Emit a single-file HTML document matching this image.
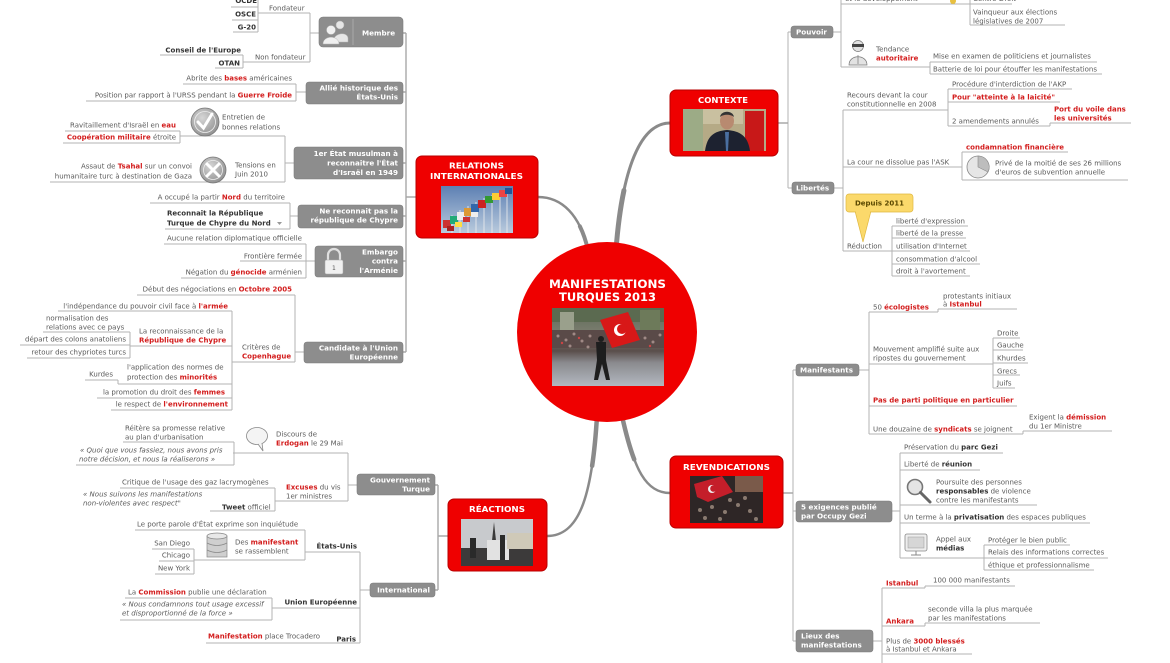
<!DOCTYPE html>
<html><head><meta charset="utf-8"><style>
html,body{margin:0;padding:0;background:#fff;}
svg{display:block}
text{font-family:"DejaVu Sans",Verdana,sans-serif;font-size:7px;fill:#5a5a5a}
.b{font-weight:bold;fill:#333}
.r{font-weight:bold;fill:#d31d1d}
.i{font-style:italic}
.w{font-weight:bold;fill:#fff;font-size:7.2px}
.h{font-weight:bold;fill:#fff;font-size:7.8px}
.l{stroke:#b3b3b3;stroke-width:1;fill:none}
.g{fill:#8d8d8d;stroke:#7c7c7c;stroke-width:0.6}
.rb{fill:#ef0000;stroke:#b90000;stroke-width:1}
.cv{stroke:#8a8a8a;fill:none;stroke-linecap:round}
</style></head><body>
<svg width="1170" height="663" viewBox="0 0 1170 663" xmlns="http://www.w3.org/2000/svg">
<defs>
<linearGradient id="sky" x1="0" y1="0" x2="0" y2="1"><stop offset="0" stop-color="#5d80b3"/><stop offset="1" stop-color="#b9cadd"/></linearGradient>
<linearGradient id="st" x1="0" y1="0" x2="0" y2="1"><stop offset="0" stop-color="#5f6a55"/><stop offset="0.35" stop-color="#7d7f72"/><stop offset="0.55" stop-color="#5a4e4b"/><stop offset="0.7" stop-color="#8a8a8e"/><stop offset="1" stop-color="#b3b8c0"/></linearGradient>
<radialGradient id="ic" cx="0.4" cy="0.35" r="0.7"><stop offset="0" stop-color="#d6d6d6"/><stop offset="1" stop-color="#8f8f8f"/></radialGradient>
</defs>

<!-- connector lines -->
<path class="l" d="M231 7H258M232 20H258M233 32H258M258 0V32M258 13H310M310 13V62M243 62H310M160 55H243M215 68H243M243 55V68M310 33H319
M183 84H296M86 101H296M296 84V101M296 92H306
M180 136H285M65 131H180M63 143H180M180 131V143M50 182H285M285 136V182M285 163H294
M150 203H290M165 229H290M290 203V229M290 216H298
M164 244H306M240 261H306M181 278H306M306 244V278M306 261H315
M137 295H295M295 295V362M295 352H304M232 362H295M232 311V410M58 311H232M130 346H232M130 332V358M43 332H130M20 345H130M27 358H130M118 384H232M85 380H118M118 380V384M97 398H232M111 410H232
M348 485H357M348 453V501M233 453H348M123 442H234M234 442V465M76 465H234M275 501H348M120 488H275M275 488V511M210 511H275
M360 552V643M360 590H370M305 552H360M135 530H305M305 530V560M194 560H305M152 549H194M159 561H194M155 574H194M194 549V574M272 608H360M125 598H272M272 598V620M120 620H272M206 643H360
M788 32V188M788 32H791M788 188H792M833 32H841M841 0V67M841 4H970M970 0V25M970 4H1012M970 25H1065M841 67H930M930 62V74M930 62H1097M930 74H1102
M834 188H843M843 110V251M843 110H948M948 89V126M948 89H1072M948 102H1060M948 126H1050M1050 123V126M1050 123H1131M843 167H962M962 152V180M962 152H1068M962 180H1128M843 251H892M892 226V276M892 226H968M892 238H966M892 251H970M892 264H980M892 276H970
M793 370V641M793 370H796M793 511H796M793 641H796
M859 370H869M869 312V434M869 312H938M938 309V312M938 309H1017M869 364H993M993 338V388M993 338H1020M993 350H1023M993 363H1028M993 375H1020M993 388H1015M869 406H1017M869 434H1023M1023 431V434M1023 431H1112
M892 511H900M900 453V558M900 453H1003M900 470H980M900 505H1037M900 523H1090M900 558H984M984 545V570M984 545H1070M984 558H1108M984 570H1094
M873 641H882M882 588V663M882 588H925M925 586V588M925 586H1015M882 626H925M925 623V626M925 623H1040M882 654H972"/>
<path d="M406 33V352M403 33H406M403 92H406M403 163H406M403 216H406M403 261H406M403 352H406M406 197H416M438 485V590M438 536H448M435 485H438M435 590H438M778 123H788M783 493H793" stroke="#a8a8a8" stroke-width="1.4" fill="none"/>

<!-- thick tapered curves -->
<path class="cv" stroke-width="2.5" d="M588 250 C580 215 562 197 538 197"/>
<path class="cv" stroke-width="4" stroke-dasharray="25 500" d="M588 250 C580 215 562 197 538 197"/>
<path class="cv" stroke-width="3" d="M616 250 C622 170 640 123 670 123"/>
<path class="cv" stroke-width="5" stroke-dasharray="60 500" d="M616 250 C622 170 640 123 670 123"/>
<path class="cv" stroke-width="2.5" d="M597 416 C592 500 578 536 547 536"/>
<path class="cv" stroke-width="4.5" stroke-dasharray="50 500" d="M597 416 C592 500 578 536 547 536"/>
<path class="cv" stroke-width="2.5" d="M622 416 C634 470 646 493 670 493"/>
<path class="cv" stroke-width="4.5" stroke-dasharray="45 500" d="M622 416 C634 470 646 493 670 493"/>

<!-- central circle -->
<circle cx="607" cy="332" r="90" fill="#ef0000"/>
<text x="549" y="288" textLength="117" lengthAdjust="spacingAndGlyphs" style="font-size:11.5px;font-weight:bold;fill:#fff">MANIFESTATIONS</text>
<text x="559" y="301" textLength="97" lengthAdjust="spacingAndGlyphs" style="font-size:11.5px;font-weight:bold;fill:#fff">TURQUES 2013</text>
<rect x="552" y="308" width="112" height="78" fill="url(#st)"/>
<rect x="552" y="308" width="112" height="14" fill="#5b6a50"/>
<rect x="560" y="312" width="14" height="20" fill="#9aa08c"/>
<rect x="640" y="310" width="20" height="22" fill="#6d7a5a"/>
<rect x="552" y="330" width="112" height="18" fill="#5a4a48"/>
<g fill="#a08a86"><circle cx="558" cy="336" r="1.5"/><circle cx="566" cy="340" r="1.5"/><circle cx="574" cy="334" r="1.5"/><circle cx="582" cy="341" r="1.5"/><circle cx="590" cy="336" r="1.5"/><circle cx="645" cy="338" r="1.5"/><circle cx="653" cy="342" r="1.5"/><circle cx="660" cy="335" r="1.5"/><circle cx="570" cy="346" r="1.5"/><circle cx="588" cy="347" r="1.5"/></g>
<g fill="#c44"><circle cx="562" cy="343" r="1.2"/><circle cx="579" cy="338" r="1.2"/><circle cx="650" cy="346" r="1.2"/></g>
<path d="M600 320 L628 312 L640 340 L612 348 Z" fill="#d81818"/>
<circle cx="620" cy="330" r="6" fill="#fff"/><circle cx="622" cy="329" r="5" fill="#d81818"/>
<path d="M596 342 h10 v18 l4 20 h-4 l-4 -16 l-4 16 h-4 l3 -20 z" fill="#1e1e1e"/>
<circle cx="601" cy="339" r="3" fill="#1e1e1e"/>

<!-- RELATIONS INTERNATIONALES -->
<rect x="416" y="156" width="122" height="82" rx="6" class="rb"/>
<text x="449" y="168.5" textLength="55" lengthAdjust="spacingAndGlyphs" class="h">RELATIONS</text>
<text x="430" y="179" textLength="93" lengthAdjust="spacingAndGlyphs" class="h">INTERNATIONALES</text>
<rect x="441" y="186" width="72" height="47" fill="url(#sky)"/>
<g stroke="#eee" stroke-width="0.8"><path d="M452 215V233M460 210V233M468 206V233M476 202V233M484 198V233M492 195V233M500 192V233M507 190V233"/></g>
<g>
<rect x="443" y="220" width="8" height="8" fill="#c33"/><rect x="450" y="216" width="8" height="8" fill="#2a7"/><rect x="457" y="212" width="8" height="8" fill="#eee"/><rect x="464" y="208" width="8" height="8" fill="#d93"/><rect x="471" y="204" width="8" height="8" fill="#36a"/><rect x="478" y="200" width="8" height="8" fill="#c22"/><rect x="485" y="196" width="8" height="7" fill="#393"/><rect x="492" y="193" width="8" height="7" fill="#fc3"/><rect x="499" y="190" width="8" height="7" fill="#e44"/><rect x="505" y="188" width="7" height="6" fill="#259"/>
<rect x="447" y="226" width="7" height="5" fill="#a22"/><rect x="455" y="222" width="7" height="5" fill="#fd4"/><rect x="463" y="217" width="7" height="5" fill="#c33"/><rect x="471" y="212" width="7" height="5" fill="#eee"/>
</g>

<!-- CONTEXTE -->
<rect x="670" y="90" width="108" height="66" rx="6" class="rb"/>
<text x="698" y="103" textLength="50" lengthAdjust="spacingAndGlyphs" class="h">CONTEXTE</text>
<rect x="683" y="109" width="83" height="42" fill="#b5aa86"/>
<rect x="683" y="109" width="20" height="42" fill="#9cab86"/>
<rect x="703" y="109" width="40" height="15" fill="#c9c0a0"/>
<rect x="745" y="111" width="19" height="40" fill="#c81818"/>
<path d="M705 151 C707 136 714 131 727 130 C740 131 748 136 750 151 Z" fill="#1d2230"/>
<path d="M725 132 h4 l-1 19 h-2 z" fill="#4a6fa0"/>
<ellipse cx="727" cy="121" rx="7" ry="8.5" fill="#b88a70"/>
<path d="M720 117 C721 110 733 110 734 117 C731 114 723 114 720 117Z" fill="#333"/>

<!-- RÉACTIONS -->
<rect x="448" y="499" width="99" height="72" rx="6" class="rb"/>
<text x="469" y="512" textLength="56" lengthAdjust="spacingAndGlyphs" class="h">RÉACTIONS</text>
<rect x="461" y="519" width="72" height="47" fill="#c8cacd"/>
<path d="M494 522 L491 550 L497 550 Z" fill="#3a3a3a"/>
<rect x="461" y="548" width="72" height="18" fill="#3c3a3a"/>
<rect x="487" y="540" width="22" height="20" fill="#e2e2e2"/>
<rect x="507" y="533" width="26" height="16" fill="#cfc9b8"/>
<rect x="470" y="538" width="6" height="20" fill="#2a2a2a"/>
<rect x="500" y="535" width="5" height="25" fill="#2a2a2a"/>

<!-- REVENDICATIONS -->
<rect x="670" y="456" width="113" height="72" rx="6" class="rb"/>
<text x="683" y="470" textLength="87" lengthAdjust="spacingAndGlyphs" class="h">REVENDICATIONS</text>
<rect x="690" y="476" width="73" height="47" fill="#2e2626"/>
<rect x="735" y="476" width="28" height="16" fill="#7a5a4a"/>
<path d="M694 484 L722 476 L733 492 L708 502 L697 497 Z" fill="#c41e2a"/>
<circle cx="712" cy="489" r="4" fill="#eee"/><circle cx="713.5" cy="488.5" r="3.3" fill="#c41e2a"/>
<g fill="#8a7a70"><circle cx="700" cy="510" r="2"/><circle cx="712" cy="507" r="2"/><circle cx="725" cy="512" r="2"/><circle cx="738" cy="505" r="2"/><circle cx="750" cy="511" r="2"/><circle cx="745" cy="498" r="2"/><circle cx="730" cy="500" r="2"/><circle cx="705" cy="518" r="2"/><circle cx="720" cy="519" r="2"/><circle cx="756" cy="519" r="2"/></g>

<!-- ===== LEFT: Relations internationales ===== -->
<text x="257" y="3" text-anchor="end" class="b">OCDE</text>
<text x="256" y="16.5" text-anchor="end" class="b">OSCE</text>
<text x="256" y="29.5" text-anchor="end" class="b">G-20</text>
<text x="269" y="10.5">Fondateur</text>
<text x="241" y="52.5" text-anchor="end" class="b">Conseil de l'Europe</text>
<text x="240" y="65.5" text-anchor="end" class="b">OTAN</text>
<text x="255" y="59.5">Non fondateur</text>
<rect x="319" y="17" width="84" height="30" rx="4" class="g"/>
<line x1="353" y1="19" x2="353" y2="45" stroke="#a9a9a9"/>
<circle cx="340" cy="25" r="4" fill="#e6e6e6" stroke="#b5b5b5" stroke-width="0.5"/>
<path d="M333 42 C333 33 347 31 348 38 V42 Z" fill="#e6e6e6" stroke="#b5b5b5" stroke-width="0.5"/>
<circle cx="331" cy="30" r="4.5" fill="#f0f0f0" stroke="#b5b5b5" stroke-width="0.5"/>
<path d="M323 44 C323 35 339 35 339 44 Z" fill="#f0f0f0" stroke="#b5b5b5" stroke-width="0.5"/>
<text x="362" y="35.5" class="w">Membre</text>

<text x="292" y="80.5" text-anchor="end">Abrite des <tspan class="r">bases</tspan> américaines</text>
<text x="292" y="97.5" text-anchor="end">Position par rapport à l'URSS pendant la <tspan class="r">Guerre Froide</tspan></text>
<rect x="306" y="82" width="97" height="22" rx="3" class="g"/>
<text x="398" y="90.5" text-anchor="end" class="w">Allié historique des</text>
<text x="398" y="99.5" text-anchor="end" class="w">États-Unis</text>

<circle cx="205" cy="122" r="14" fill="url(#ic)" stroke="#777" stroke-width="0.8"/>
<circle cx="205" cy="122" r="10.5" fill="none" stroke="#eee" stroke-width="0.8"/>
<path d="M198 122 L203.5 128 L212 114" stroke="#fff" stroke-width="3" fill="none" stroke-linecap="round"/>
<text x="222" y="119.5">Entretien de</text>
<text x="222" y="129.5">bonnes relations</text>
<text x="176" y="127.5" text-anchor="end">Ravitaillement d'Israël en <tspan class="r">eau</tspan></text>
<text x="176" y="139.5" text-anchor="end"><tspan class="r">Coopération militaire</tspan> étroite</text>
<circle cx="213" cy="170" r="13" fill="url(#ic)" stroke="#777" stroke-width="0.8"/>
<circle cx="213" cy="170" r="9.5" fill="none" stroke="#eee" stroke-width="0.8"/>
<path d="M207 164 L219 176 M219 164 L207 176" stroke="#fff" stroke-width="3" stroke-linecap="round"/>
<text x="235" y="167.5">Tensions en</text>
<text x="235" y="176.5">Juin 2010</text>
<text x="192" y="168.5" text-anchor="end">Assaut de <tspan class="r">Tsahal</tspan> sur un convoi</text>
<text x="192" y="178.5" text-anchor="end">humanitaire turc à destination de Gaza</text>
<rect x="294" y="147" width="109" height="32" rx="3" class="g"/>
<text x="398" y="156" text-anchor="end" class="w">1er État musulman à</text>
<text x="398" y="165.5" text-anchor="end" class="w">reconnaitre l'État</text>
<text x="398" y="175" text-anchor="end" class="w">d'Israël en 1949</text>

<text x="285" y="199.5" text-anchor="end">A occupé la partir <tspan class="r">Nord</tspan> du territoire</text>
<text x="167" y="215.5" class="b">Reconnait la République</text>
<text x="167" y="225.5" class="b">Turque de Chypre du Nord</text>
<path d="M277 222 h5 l-2.5 3 z" fill="#999"/>
<rect x="298" y="205" width="105" height="23" rx="3" class="g"/>
<text x="398" y="213.5" text-anchor="end" class="w">Ne reconnait pas la</text>
<text x="398" y="222.5" text-anchor="end" class="w">république de Chypre</text>

<text x="302" y="240.5" text-anchor="end">Aucune relation diplomatique officielle</text>
<text x="302" y="258.5" text-anchor="end">Frontière fermée</text>
<text x="302" y="274.5" text-anchor="end">Négation du <tspan class="r">génocide</tspan> arménien</text>
<rect x="315" y="246" width="88" height="31" rx="3" class="g"/>
<path d="M328 261 V255 a6 6 0 0 1 12 0 V261" stroke="#e0e0e0" stroke-width="2.2" fill="none"/>
<rect x="325" y="260" width="18" height="14" rx="1.5" fill="#f0f0f0" stroke="#aaa" stroke-width="0.5"/>
<text x="332" y="270" style="font-size:6px;fill:#555">1</text>
<text x="398" y="254.5" text-anchor="end" class="w">Embargo</text>
<text x="398" y="263.5" text-anchor="end" class="w">contra</text>
<text x="398" y="273" text-anchor="end" class="w">l'Arménie</text>

<text x="292" y="291.5" text-anchor="end">Début des négociations en <tspan class="r">Octobre 2005</tspan></text>
<text x="228" y="308.5" text-anchor="end">l'indépendance du pouvoir civil face à <tspan class="r">l'armée</tspan></text>
<text x="139" y="333.5">La reconnaissance de la</text>
<text x="139" y="342.5" class="r">République de Chypre</text>
<text x="46" y="320.5">normalisation des</text>
<text x="46" y="329.5">relations avec ce pays</text>
<text x="126" y="341.5" text-anchor="end">départ des colons anatoliens</text>
<text x="126" y="354.5" text-anchor="end">retour des chypriotes turcs</text>
<text x="127" y="369.5">l'application des normes de</text>
<text x="127" y="379.5">protection des <tspan class="r">minorités</tspan></text>
<text x="113" y="376.5" text-anchor="end">Kurdes</text>
<text x="225" y="394.5" text-anchor="end">la promotion du droit des <tspan class="r">femmes</tspan></text>
<text x="228" y="406.5" text-anchor="end">le respect de <tspan class="r">l'environnement</tspan></text>
<text x="242" y="349.5">Critères de</text>
<text x="242" y="358.5" class="r">Copenhague</text>
<rect x="304" y="342" width="99" height="21" rx="3" class="g"/>
<text x="398" y="350.5" text-anchor="end" class="w">Candidate à l'Union</text>
<text x="398" y="359.5" text-anchor="end" class="w">Européenne</text>

<!-- ===== LEFT BOTTOM: Réactions ===== -->
<text x="125" y="430.5">Réitère sa promesse relative</text>
<text x="125" y="439.5">au plan d'urbanisation</text>
<text x="80" y="452.5" class="i">« Quoi que vous fassiez, nous avons pris</text>
<text x="79" y="461.5" class="i">notre décision, et nous la réaliserons »</text>
<ellipse cx="257" cy="436" rx="10.5" ry="8.5" fill="#f4f4f4" stroke="#888" stroke-width="0.8"/>
<path d="M258 444 L263 451 L262 443" fill="#f4f4f4" stroke="#888" stroke-width="0.8"/>
<text x="276" y="436.5">Discours de</text>
<text x="276" y="445.5"><tspan class="r">Erdogan</tspan> le 29 Mai</text>
<text x="122" y="484.5">Critique de l'usage des gaz lacrymogènes</text>
<text x="83" y="496.5" class="i">« Nous suivons les manifestations</text>
<text x="83" y="505.5" class="i">non-violentes avec respect"</text>
<text x="222" y="509.5"><tspan class="b">Tweet</tspan> officiel</text>
<text x="286" y="489.5"><tspan class="r">Excuses</tspan> du vis</text>
<text x="286" y="498.5">1er ministres</text>
<rect x="357" y="474" width="78" height="21" rx="3" class="g"/>
<text x="430" y="482.5" text-anchor="end" class="w">Gouvernement</text>
<text x="430" y="491.5" text-anchor="end" class="w">Turque</text>

<text x="137" y="526.5">Le porte parole d'État exprime son inquiétude</text>
<rect x="207" y="536" width="20" height="21" fill="#cfcfcf" stroke="#888" stroke-width="0.7"/>
<ellipse cx="217" cy="536" rx="10" ry="3" fill="#e8e8e8" stroke="#888" stroke-width="0.7"/>
<path d="M207 543 q10 5 20 0 M207 550 q10 5 20 0" stroke="#888" stroke-width="0.7" fill="none"/>
<text x="235" y="544.5">Des <tspan class="r">manifestant</tspan></text>
<text x="235" y="553.5">se rassemblent</text>
<text x="190" y="545.5" text-anchor="end">San Diego</text>
<text x="190" y="557.5" text-anchor="end">Chicago</text>
<text x="190" y="570.5" text-anchor="end">New York</text>
<text x="357" y="548.5" text-anchor="end" class="b">États-Unis</text>
<text x="128" y="594.5">La <tspan class="r">Commission</tspan> publie une déclaration</text>
<text x="122" y="606.5" class="i">« Nous condamnons tout usage excessif</text>
<text x="122" y="615.5" class="i">et disproportionné de la force »</text>
<text x="357" y="604.5" text-anchor="end" class="b">Union Européenne</text>
<text x="208" y="638.5"><tspan class="r">Manifestation</tspan> place Trocadero</text>
<text x="356" y="641.5" text-anchor="end" class="b">Paris</text>
<rect x="370" y="583" width="65" height="14" rx="3" class="g"/>
<text x="430" y="592.5" text-anchor="end" class="w">International</text>

<!-- ===== RIGHT TOP: Contexte ===== -->
<rect x="791" y="26" width="42" height="12" rx="3" class="g"/>
<text x="796" y="34.5" class="w">Pouvoir</text>
<text x="845" y="1">et le développement</text>
<circle cx="953" cy="1" r="3" fill="#e8c040"/>
<text x="973" y="1">Centre-Droit</text>
<text x="973" y="14.5">Vainqueur aux élections</text>
<text x="973" y="23.5">législatives de 2007</text>
<circle cx="858" cy="46" r="5.5" fill="#e2e2e2" stroke="#777" stroke-width="0.7"/>
<rect x="852" y="44" width="12" height="3" fill="#444"/>
<path d="M849 65 C849 54 867 54 867 65 Z" fill="#e2e2e2" stroke="#777" stroke-width="0.7"/>
<path d="M858 55 v9" stroke="#777" stroke-width="0.7"/>
<text x="876" y="51.5">Tendance</text>
<text x="876" y="60.5" class="r">autoritaire</text>
<text x="933" y="58.5">Mise en examen de politiciens et journalistes</text>
<text x="933" y="71.5">Batterie de loi pour étouffer les manifestations</text>

<text x="847" y="97.5">Recours devant la cour</text>
<text x="847" y="106.5">constitutionnelle en 2008</text>
<text x="952" y="86.5">Procédure d'interdiction de l'AKP</text>
<text x="952" y="99.5" class="r">Pour "atteinte à la laicité"</text>
<text x="952" y="123.5">2 amendements annulés</text>
<text x="1054" y="111.5" class="r">Port du voile dans</text>
<text x="1054" y="120.5" class="r">les universités</text>
<text x="847" y="164.5">La cour ne dissolue pas l'ASK</text>
<text x="966" y="149.5" class="r">condamnation financière</text>
<circle cx="978" cy="167" r="11" fill="#e6e6e6" stroke="#888" stroke-width="0.8"/>
<path d="M978 167 L978 156 A11 11 0 0 1 988 172 Z" fill="#bdbdbd" stroke="#888" stroke-width="0.6"/>
<text x="995" y="165.5">Privé de la moitié de ses 26 millions</text>
<text x="995" y="174.5">d'euros de subvention annuelle</text>
<rect x="792" y="182" width="42" height="12" rx="3" class="g"/>
<text x="796" y="190.5" class="w">Libertés</text>
<path d="M855 211 L863 242 L871 211 Z" fill="#fbd96b" stroke="#e0b840" stroke-width="0.7"/>
<rect x="846" y="194" width="67" height="18" rx="3" fill="#fbd96b" stroke="#e0b840" stroke-width="0.7"/>
<rect x="856" y="210" width="14" height="3" fill="#fbd96b"/>
<text x="879.5" y="205.5" text-anchor="middle" style="font-weight:bold;fill:#5a4800">Depuis 2011</text>
<text x="847" y="248.5">Réduction</text>
<text x="896" y="223.5">liberté d'expression</text>
<text x="896" y="235.5">liberté de la presse</text>
<text x="896" y="248.5">utilisation d'Internet</text>
<text x="896" y="261.5">consommation d'alcool</text>
<text x="896" y="273.5">droit à l'avortement</text>

<!-- ===== RIGHT BOTTOM: Revendications ===== -->
<rect x="796" y="364" width="63" height="12" rx="3" class="g"/>
<text x="800" y="372.5" class="w">Manifestants</text>
<text x="873" y="309.5">50 <tspan class="r">écologistes</tspan></text>
<text x="943" y="298.5">protestants initiaux</text>
<text x="943" y="306.5">à <tspan class="r">Istanbul</tspan></text>
<text x="873" y="351.5">Mouvement amplifié suite aux</text>
<text x="873" y="360.5">ripostes du gouvernement</text>
<text x="997" y="335.5">Droite</text>
<text x="997" y="347.5">Gauche</text>
<text x="997" y="360.5">Khurdes</text>
<text x="997" y="373.5">Grecs</text>
<text x="997" y="385.5">Juifs</text>
<text x="873" y="402.5" class="r">Pas de parti politique en particulier</text>
<text x="873" y="431.5">Une douzaine de <tspan class="r">syndicats</tspan> se joignent</text>
<text x="1029" y="419.5">Exigent la <tspan class="r">démission</tspan></text>
<text x="1029" y="428.5">du 1er Ministre</text>

<rect x="796" y="501" width="96" height="21" rx="3" class="g"/>
<text x="801" y="509.5" class="w">5 exigences publié</text>
<text x="801" y="518.5" class="w">par Occupy Gezi</text>
<text x="904" y="449.5">Préservation du <tspan class="b">parc Gezi</tspan></text>
<text x="904" y="466.5">Liberté de <tspan class="b">réunion</tspan></text>
<circle cx="915" cy="487" r="7.5" fill="#e4e4e4" stroke="#777" stroke-width="1.6"/>
<path d="M920.5 492.5 L930 502" stroke="#666" stroke-width="3" stroke-linecap="round"/>
<text x="936" y="484.5">Poursuite des personnes</text>
<text x="936" y="493.5"><tspan class="b">responsables</tspan> de violence</text>
<text x="936" y="502.5">contre les manifestants</text>
<text x="904" y="519.5">Un terme à la <tspan class="b">privatisation</tspan> des espaces publiques</text>
<rect x="905" y="534" width="22" height="17" rx="2" fill="#eee" stroke="#888" stroke-width="0.8"/>
<rect x="908" y="537" width="16" height="11" fill="#d6d6d6" stroke="#999" stroke-width="0.5"/>
<path d="M911 555 h10 M916 551 v4" stroke="#888" stroke-width="1"/>
<text x="936" y="541.5">Appel aux</text>
<text x="936" y="550.5" class="b">médias</text>
<text x="988" y="542.5">Protéger le bien public</text>
<text x="988" y="554.5">Relais des informations correctes</text>
<text x="988" y="567.5">éthique et professionnalisme</text>

<rect x="796" y="630" width="77" height="22" rx="3" class="g"/>
<text x="801" y="638.5" class="w">Lieux des</text>
<text x="801" y="647.5" class="w">manifestations</text>
<text x="886" y="585.5" class="r">Istanbul</text>
<text x="933" y="582.5">100 000 manifestants</text>
<text x="886" y="623.5" class="r">Ankara</text>
<text x="928" y="611.5">seconde villa la plus marquée</text>
<text x="928" y="620.5">par les manifestations</text>
<text x="886" y="643.5">Plus de <tspan class="r">3000 blessés</tspan></text>
<text x="886" y="651.5">à Istanbul et Ankara</text>
</svg>
</body></html>
